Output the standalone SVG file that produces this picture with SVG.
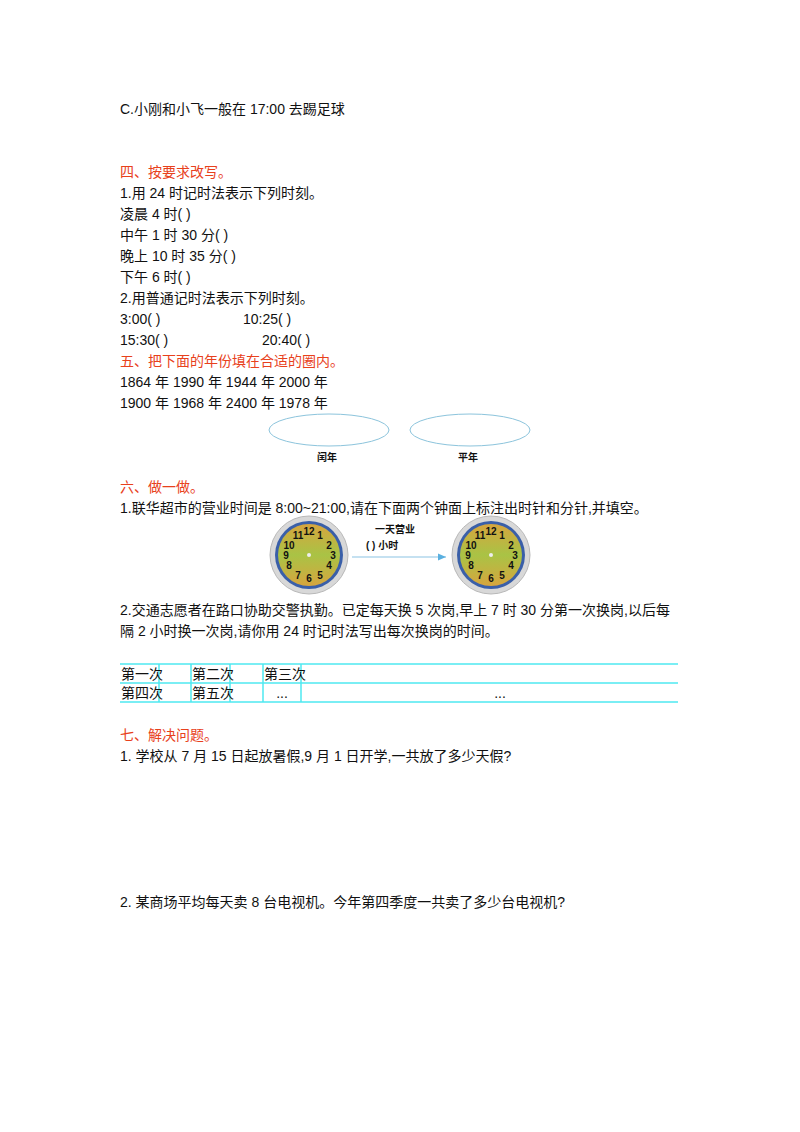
<svg xmlns="http://www.w3.org/2000/svg" width="800" height="1132" viewBox="0 0 800 1132">
<defs>
<style>
text{font-family:"Liberation Sans","Noto Sans CJK SC",sans-serif;font-size:14px;fill:#111}
.h{fill:#e8411c}
.s{font-size:10px;font-weight:bold}
.n{font-size:10px;font-weight:bold;text-anchor:middle}
.t{stroke:#4ee8f0;stroke-width:1.5}
</style>
<linearGradient id="face" x1="0" y1="0" x2="0" y2="1"><stop offset="0" stop-color="#d7a53e"/><stop offset="0.5" stop-color="#a9c345"/><stop offset="1" stop-color="#d7a53e"/></linearGradient>
<marker id="ar" markerWidth="8" markerHeight="8" refX="7" refY="4" orient="auto"><path d="M0,1 L7,4 L0,7 z" fill="#5ab0e0"/></marker>
<g id="clk">
<circle r="39" fill="#d8d8d8" stroke="#b8b8b8"/>
<circle r="34" fill="#3a5fa8"/>
<circle r="31" fill="url(#face)"/>
<circle r="2" fill="#eee"/>
<text class="n" x="0" y="-20">12</text><text class="n" x="11" y="-16">1</text><text class="n" x="20" y="-6">2</text><text class="n" x="24" y="4">3</text><text class="n" x="20" y="14">4</text><text class="n" x="11" y="24">5</text><text class="n" x="0" y="27">6</text><text class="n" x="-11" y="24">7</text><text class="n" x="-20" y="14">8</text><text class="n" x="-23" y="4">9</text><text class="n" x="-20" y="-6">10</text><text class="n" x="-11" y="-16">11</text>
</g>
</defs>
<rect width="800" height="1132" fill="#fff"/>
<text x="120" y="114">C.小刚和小飞一般在 17:00 去踢足球</text>
<text class="h" x="120" y="177">四、按要求改写。</text>
<text x="120" y="198">1.用 24 时记时法表示下列时刻。</text>
<text x="120" y="219">凌晨 4 时(              )</text>
<text x="120" y="240">中午 1 时 30 分(              )</text>
<text x="120" y="261">晚上 10 时 35 分(              )</text>
<text x="120" y="282">下午 6 时(              )</text>
<text x="120" y="303">2.用普通记时法表示下列时刻。</text>
<text x="120" y="324">3:00(              )</text><text x="243" y="324">10:25(              )</text>
<text x="120" y="345">15:30(              )</text><text x="262" y="345">20:40(              )</text>
<text class="h" x="120" y="366">五、把下面的年份填在合适的圈内。</text>
<text x="120" y="387">1864 年    1990 年    1944 年    2000 年</text>
<text x="120" y="408">1900 年    1968 年    2400 年    1978 年</text>
<g id="leap"><ellipse cx="329" cy="430" rx="60" ry="16" fill="none" stroke="#8cc4dc"/><text class="s" x="317" y="461">闰年</text></g>
<g id="common"><ellipse cx="470" cy="430" rx="60" ry="16" fill="none" stroke="#8cc4dc"/><text class="s" x="458" y="461">平年</text></g>
<text class="h" x="120" y="492">六、做一做。</text>
<text x="120" y="513">1.联华超市的营业时间是 8:00~21:00,请在下面两个钟面上标注出时针和分针,并填空。</text>
<g id="clock1"><use href="#clk" x="309" y="555"/></g>
<g id="clock2"><use href="#clk" x="491" y="555"/></g>
<g id="connectors"><line x1="352" y1="557" x2="446" y2="557" stroke="#8cc4e4" stroke-width="1.2" marker-end="url(#ar)"/></g>
<text class="s" x="375" y="533">一天营业</text>
<text class="s" x="366" y="549">(       ) 小时</text>
<text x="120" y="615">2.交通志愿者在路口协助交警执勤。已定每天换 5 次岗,早上 7 时 30 分第一次换岗,以后每</text>
<text x="120" y="636">隔 2 小时换一次岗,请你用 24 时记时法写出每次换岗的时间。</text>
<g id="table">
<line class="t" x1="120" y1="664" x2="678" y2="664"/><line class="t" x1="120" y1="683" x2="678" y2="683"/><line class="t" x1="120" y1="702" x2="678" y2="702"/>
<line class="t" x1="159" y1="664" x2="159" y2="702"/><line class="t" x1="191" y1="664" x2="191" y2="702"/><line class="t" x1="230" y1="664" x2="230" y2="702"/><line class="t" x1="263" y1="664" x2="263" y2="702"/><line class="t" x1="301" y1="664" x2="301" y2="702"/>
<text x="121" y="679">第一次</text><text x="192" y="679">第二次</text><text x="264" y="679">第三次</text>
<text x="121" y="698">第四次</text><text x="192" y="698">第五次</text><text x="282" y="698" text-anchor="middle">...</text><text x="500" y="698" text-anchor="middle">...</text>
</g>
<text class="h" x="120" y="740">七、解决问题。</text>
<text x="120" y="761">1.  学校从 7 月 15 日起放暑假,9 月 1 日开学,一共放了多少天假?</text>
<text x="120" y="907">2.  某商场平均每天卖 8 台电视机。今年第四季度一共卖了多少台电视机?</text>
</svg>
